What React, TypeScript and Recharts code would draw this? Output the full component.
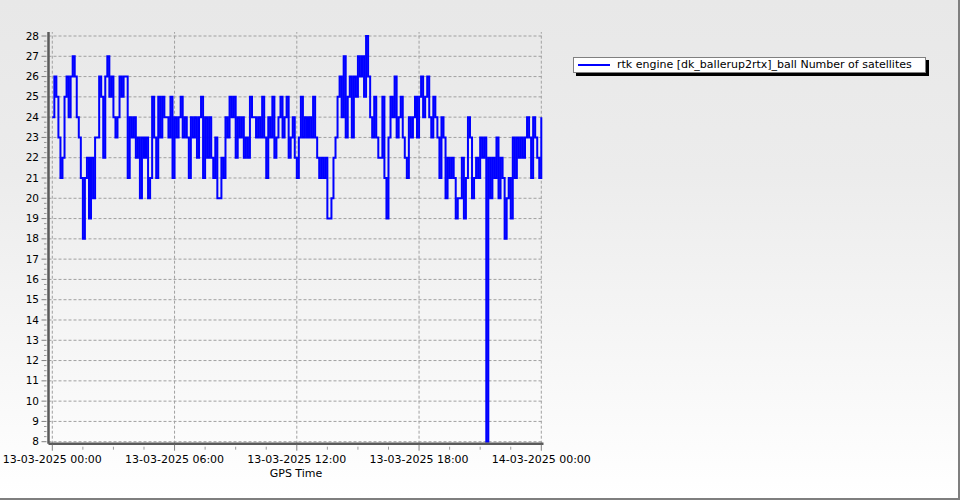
import React from 'react';
import { LineChart, Line, XAxis, YAxis, ReferenceLine, Legend } from 'recharts';

const FONT = '"DejaVu Sans", Verdana, sans-serif';

const seriesName = 'rtk engine [dk_ballerup2rtx]_ball Number of satellites';

// one sample every 0.1 hour, starting 13-03-2025 00:00
const SAMPLE_STEP_HOURS = 0.1;

const satellites: number[] = [
  24, 26, 25, 23, 21, 22, 25, 26, 24, 26,
  27, 26, 24, 23, 21, 18, 21, 22, 19, 22,
  20, 23, 23, 26, 25, 22, 26, 27, 25, 26,
  24, 23, 24, 26, 25, 26, 26, 21, 24, 23,
  24, 22, 23, 20, 23, 22, 23, 20, 21, 25,
  23, 21, 25, 23, 25, 24, 24, 23, 25, 21,
  24, 23, 24, 25, 23, 24, 23, 21, 24, 23,
  24, 22, 24, 25, 21, 24, 22, 24, 22, 21,
  23, 20, 20, 22, 21, 24, 23, 25, 24, 25,
  22, 24, 23, 24, 22, 23, 22, 25, 24, 24,
  23, 24, 23, 25, 23, 21, 24, 23, 25, 22,
  23, 24, 25, 23, 24, 25, 22, 23, 24, 22,
  21, 23, 25, 23, 24, 23, 24, 23, 25, 23,
  22, 21, 22, 21, 22, 19, 19, 20, 22, 23,
  25, 26, 24, 27, 23, 25, 26, 23, 26, 25,
  27, 26, 27, 25, 28, 26, 24, 23, 25, 23,
  22, 22, 25, 21, 19, 23, 25, 24, 26, 23,
  24, 25, 23, 22, 21, 24, 23, 24, 25, 23,
  25, 26, 24, 25, 26, 24, 23, 25, 24, 23,
  21, 24, 23, 20, 22, 21, 22, 21, 19, 20,
  20, 22, 19, 21, 24, 23, 20, 21, 22, 21,
  23, 22, 23, 8, 22, 20, 22, 21, 23, 20,
  22, 21, 18, 20, 21, 19, 23, 21, 23, 22,
  23, 22, 23, 24, 23, 21, 24, 23, 22, 21,
  24,
];

const xTickHours = [0, 1.5, 3, 4.5, 6, 7.5, 9, 10.5, 12, 13.5, 15, 16.5, 18, 19.5, 21, 22.5, 24];
const xMajorHours = [0, 6, 12, 18, 24];
const xMajorLabels = [
  '13-03-2025 00:00',
  '13-03-2025 06:00',
  '13-03-2025 12:00',
  '13-03-2025 18:00',
  '14-03-2025 00:00',
];
const yMajorTicks = [8, 9, 10, 11, 12, 13, 14, 15, 16, 17, 18, 19, 20, 21, 22, 23, 24, 25, 26, 27, 28];
const yMinorSubdivisions = [0, 0.25, 0.5, 0.75];

const yTicks = yMajorTicks.flatMap((v) =>
  v < 28 ? yMinorSubdivisions.map((s) => v + s) : [v]
);

const data = satellites.map((v, i) => ({ h: Math.round(i * SAMPLE_STEP_HOURS * 100) / 100, v }));

const XTick = (props: any) => {
  const { x, y, payload } = props;
  const val = payload.value;
  const idx = xMajorHours.indexOf(val);
  if (idx >= 0) {
    return (
      <g>
        <line x1={x} x2={x} y1={y + 1} y2={y + 7} stroke="#808080" strokeWidth={1} />
        <text x={x} y={y + 19} textAnchor="middle" fontFamily={FONT} fontSize={11} fill="#000">
          {xMajorLabels[idx]}
        </text>
      </g>
    );
  }
  return <line x1={x} x2={x} y1={y + 3} y2={y + 6} stroke="#999" strokeWidth={1} />;
};

const YTick = (props: any) => {
  const { x, y, payload } = props;
  const val = payload.value;
  if (Number.isInteger(val)) {
    return (
      <g>
        <line x1={x - 7} x2={x - 2} y1={y} y2={y} stroke="#808080" strokeWidth={1} />
        <text x={x - 9.5} y={y + 3.6} textAnchor="end" fontFamily={FONT} fontSize={10.5} fill="#000">
          {val}
        </text>
      </g>
    );
  }
  return <line x1={x - 4.5} x2={x - 2} y1={y} y2={y} stroke="#999" strokeWidth={1} />;
};

const LegendBox = () => (
  <div
    style={{
      width: 353,
      height: 16,
      boxSizing: 'border-box',
      border: '1px solid #808080',
      background: '#fff',
      boxShadow: '3px 3px 0 #000',
      display: 'flex',
      alignItems: 'center',
      fontFamily: FONT,
      fontSize: 11,
      color: '#000',
      whiteSpace: 'nowrap',
    }}
  >
    <span style={{ display: 'inline-block', width: 32, height: 2, background: '#0000ff', marginLeft: 4 }} />
    <span style={{ marginLeft: 7, lineHeight: '14px' }}>{seriesName}</span>
  </div>
);

export default function App() {
  return (
    <div
      style={{
        position: 'absolute',
        left: 0,
        top: 0,
        width: 960,
        height: 500,
        boxSizing: 'border-box',
        background: 'linear-gradient(to bottom, #e8e8e8 0%, #ececec 35%, #ffffff 100%)',
        borderRight: '2px solid #7f7f7f',
        borderBottom: '2px solid #7f7f7f',
        overflow: 'hidden',
      }}
    >
      <LineChart
        width={960}
        height={500}
        data={data}
        margin={{ top: 32, right: 416.5, bottom: 16.3, left: 8.5 }}
      >
        <XAxis
          dataKey="h"
          type="number"
          domain={[0, 24]}
          ticks={xTickHours}
          interval={0}
          height={40}
          padding={{ left: 3.8, right: 2.2 }}
          tickLine={false}
          tickSize={0}
          tickMargin={0}
          tick={<XTick />}
          axisLine={{ stroke: '#5a5a5a', strokeWidth: 2.5 }}
          allowDecimals
          label={(p: any) => {
            const vb = p.viewBox || {};
            return (
              <text
                x={(vb.x ?? 48.5) + (vb.width ?? 495) / 2}
                y={477}
                textAnchor="middle"
                fontFamily={FONT}
                fontSize={11}
                fill="#000"
              >
                GPS Time
              </text>
            );
          }}
        />
        <YAxis
          type="number"
          domain={[8, 28]}
          ticks={yTicks}
          interval={0}
          width={40}
          padding={{ top: 4, bottom: 2 }}
          tickLine={false}
          tickSize={0}
          tickMargin={0}
          tick={<YTick />}
          axisLine={{ stroke: '#5a5a5a', strokeWidth: 2.5 }}
          allowDecimals
        />
        {yMajorTicks.map((v) => (
          <ReferenceLine key={'y' + v} y={v} stroke="#a0a0a0" strokeDasharray="3 2" strokeWidth={1} />
        ))}
        {xMajorHours.map((h) => (
          <ReferenceLine key={'x' + h} x={h} stroke="#a0a0a0" strokeDasharray="3 2" strokeWidth={1} />
        ))}
        <Legend
          layout="horizontal"
          verticalAlign="middle"
          align="center"
          content={() => <LegendBox />}
          wrapperStyle={{ position: 'absolute', left: 573, top: 57, width: 'auto', height: 'auto' }}
        />
        <Line
          type="stepAfter"
          dataKey="v"
          name={seriesName}
          stroke="#0000ff"
          strokeWidth={2}
          dot={false}
          activeDot={false}
          isAnimationActive={false}
        />
      </LineChart>
    </div>
  );
}
